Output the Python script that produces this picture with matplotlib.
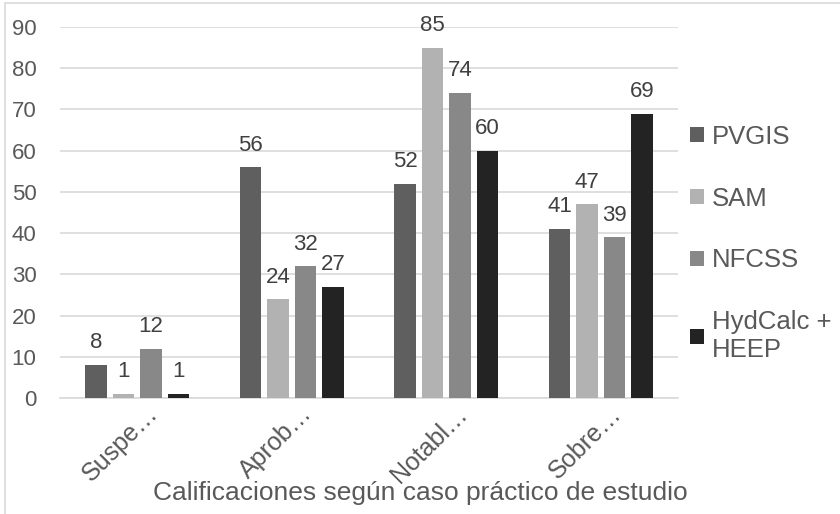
import matplotlib.pyplot as plt
import numpy as np
from matplotlib.patches import Rectangle

plt.rcParams['font.family'] = ['Liberation Sans', 'DejaVu Sans']

categories = ['Suspe…', 'Aprob…', 'Notabl…', 'Sobre…']
series = ['PVGIS', 'SAM', 'NFCSS', 'HydCalc +\nHEEP']
pvgis = [8, 56, 52, 41]
sam = [1, 24, 85, 47]
nfcss = [12, 32, 74, 39]
hydcalc = [1, 27, 60, 69]
colors = ['#5f5f5f', '#b2b2b2', '#888888', '#232323']

text_color = '#595959'
fig = plt.figure(figsize=(8.4, 5.14), dpi=100)
ax = fig.add_axes([60 / 840, 1 - 398 / 514, 618 / 840, 371 / 514])

x = np.arange(len(categories))
step = 0.178
width = 0.138
for i, (vals, name, c) in enumerate(zip([pvgis, sam, nfcss, hydcalc], series, colors)):
    pos = x + (i - 1.5) * step
    bars = ax.bar(pos, vals, width, color=c, label=name, zorder=3)
    for b, v in zip(bars, vals):
        ax.text(b.get_x() + b.get_width() / 2, v + 2.8, str(v), ha='center', va='bottom',
                fontsize=16, color='#404040')

ax.set_xlim(-0.5, 3.5)
ax.set_ylim(0, 90)
ax.set_yticks(range(0, 91, 10))
ax.yaxis.grid(True, color='#d9d9d9', linewidth=1.2, zorder=0)
ax.tick_params(axis='y', length=0, labelsize=16, labelcolor=text_color, pad=17)
ax.set_xticks(x)
ax.set_xticklabels([])
ax.tick_params(axis='x', length=0)
# rotated category labels, text ends just right of each group centre
for xi, lab in zip(x, categories):
    ax.annotate(lab, xy=(xi, 0), xycoords='data', xytext=(17, -12), textcoords='offset pixels',
                rotation=45, rotation_mode='anchor', ha='right', va='center',
                fontsize=18, color=text_color)
for s in ['top', 'right', 'left']:
    ax.spines[s].set_visible(False)
ax.spines['bottom'].set_color('#d9d9d9')
ax.spines['bottom'].set_linewidth(1.2)

fig.text(420 / 840, 1 - 493 / 514, 'Calificaciones según caso práctico de estudio',
         ha='center', va='center', fontsize=19, color=text_color)

leg = ax.legend(loc='upper left', bbox_to_anchor=(677 / 840, 1 - 112 / 514),
                bbox_transform=fig.transFigure, frameon=False, fontsize=18.5, borderpad=0,
                handlelength=0.55, handleheight=0.55, handletextpad=0.3, labelspacing=1.47)
for t in leg.get_texts():
    t.set_color(text_color)

# light frame round the chart area
fig.patches.append(Rectangle((5 / 840, -0.1), 1.0, 1 - 3 / 514 + 0.1, transform=fig.transFigure,
                             fill=False, edgecolor='#d9d9d9', linewidth=1.2))

fig.savefig('out.png', dpi=100)
